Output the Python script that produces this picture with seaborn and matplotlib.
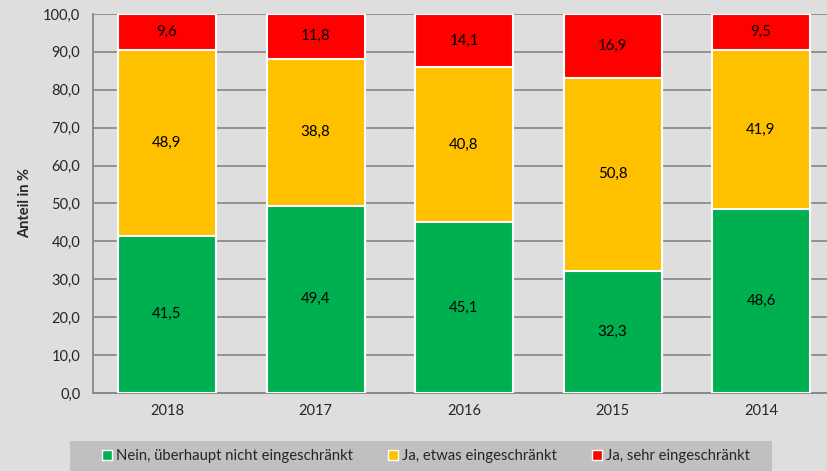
import matplotlib
matplotlib.use("Agg")
import matplotlib.pyplot as plt
import seaborn as sns
import pandas as pd
from matplotlib.patches import Rectangle, Patch

years = ["2018", "2017", "2016", "2015", "2014"]
nein = [41.5, 49.4, 45.1, 32.3, 48.6]
etwas = [48.9, 38.8, 40.8, 50.8, 41.9]
sehr = [9.6, 11.8, 14.1, 16.9, 9.5]
labels = ["Nein, überhaupt nicht eingeschränkt", "Ja, etwas eingeschränkt", "Ja, sehr eingeschränkt"]
colors = ["#00b050", "#ffc000", "#ff0000"]

bg = "#dedede"
sns.set_theme(style="white")
plt.rcParams["font.family"] = ["Lato", "DejaVu Sans"]

df = pd.DataFrame({"year": years, "nein": nein, "etwas": etwas, "sehr": sehr})
df["top2"] = df["nein"] + df["etwas"]
df["top3"] = df["top2"] + df["sehr"]

fig = plt.figure(figsize=(8.27, 4.71), dpi=100, facecolor=bg)
ax = fig.add_axes([0.1122, 0.1656, 0.8978, 0.8047])
ax.set_facecolor(bg)

# stacked by drawing cumulative totals back to front
for col, c in zip(["top3", "top2", "nein"], colors[::-1]):
    sns.barplot(data=df, x="year", y=col, order=years, color=c, width=0.66,
                edgecolor="white", linewidth=1.5, saturation=1, ax=ax, zorder=3)

for i in range(len(years)):
    bases = [0, nein[i], nein[i] + etwas[i]]
    for b, v in zip(bases, [nein[i], etwas[i], sehr[i]]):
        ax.text(i, b + v / 2, f"{v:.1f}".replace(".", ","), ha="center", va="center",
                fontsize=10.8, color="black", zorder=5)

ax.set_ylim(0, 100)
ax.set_xlim(-0.5, 4.5)
ax.set_yticks(range(0, 101, 10))
ax.set_yticklabels([f"{v:.1f}".replace(".", ",") for v in range(0, 101, 10)], fontsize=10.5)
ax.set_xticks([i + 0.5 for i in range(-1, 5)], minor=True)
ax.tick_params(axis="x", which="major", length=0, pad=8, labelsize=10.5)
ax.tick_params(axis="x", which="minor", length=5, width=1.2, color="#868686", direction="out")
ax.tick_params(axis="y", length=5, width=1.2, color="#868686", direction="out", pad=4)
ax.yaxis.grid(True, color="#8c8c8c", linewidth=1.3, zorder=0)
ax.set_axisbelow(True)
for s in ["top", "right"]:
    ax.spines[s].set_visible(False)
for s in ["left", "bottom"]:
    ax.spines[s].set_color("#868686")
    ax.spines[s].set_linewidth(1.3)
ax.set_xlabel("")
ax.set_ylabel("Anteil in %", fontsize=10.5, fontweight="bold", labelpad=8)

# legend box
fig.patches.append(Rectangle((70 / 827, 0), (772 - 70) / 827, 30 / 471,
                             transform=fig.transFigure, facecolor="#c0c0c0",
                             edgecolor="none", zorder=0))
handles = [Patch(facecolor=c, edgecolor="white", linewidth=1) for c in colors]
fig.legend(handles, labels, loc="center", bbox_to_anchor=(426 / 827, 15 / 471), ncol=3,
           frameon=False, fontsize=10.7, handlelength=0.7, handleheight=0.7,
           handletextpad=0.3, columnspacing=2.3)

fig.savefig("out.png", dpi=100, facecolor=bg)
